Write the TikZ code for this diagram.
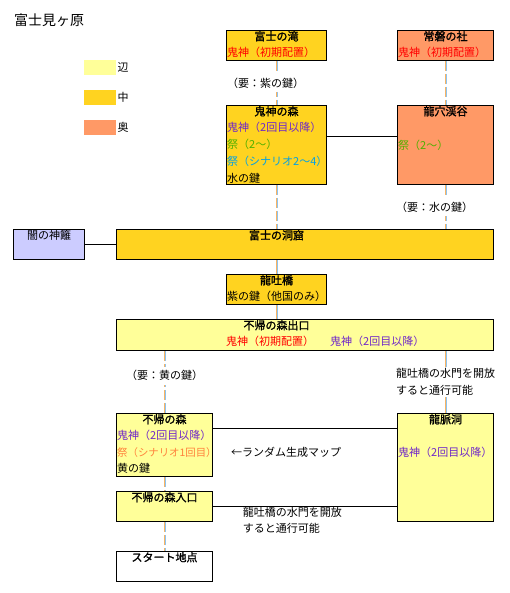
\documentclass[tikz,border=0pt]{standalone}
\usepackage{fontspec}
\setmainfont{Noto Sans CJK JP}
\newfontfamily\boldjp[FakeBold=1.5]{Noto Sans CJK JP}
\usetikzlibrary{positioning}

\definecolor{hen}{RGB}{255,255,153}
\definecolor{chu}{RGB}{255,211,32}
\definecolor{oku}{RGB}{255,153,102}
\definecolor{yamiblue}{RGB}{204,204,255}
\definecolor{oniRed}{RGB}{255,0,0}
\definecolor{oniPurple}{RGB}{112,40,200}
\definecolor{matsuriGreen}{RGB}{80,176,0}
\definecolor{matsuriBlue}{RGB}{0,160,230}
\definecolor{matsuriOrange}{RGB}{255,130,60}
\definecolor{pathOrange}{RGB}{248,180,100}
\definecolor{pathBlue}{RGB}{140,195,240}

\tikzset{
  area/.style={draw, line width=1pt, anchor=north west, inner sep=0pt},
  swatch/.style={anchor=north west, inner sep=0pt, minimum width=32pt, minimum height=15pt},
  head/.style={anchor=north, inner sep=0pt, yshift=-1pt, font=\boldjp\fontsize{11}{13}\selectfont},
  body/.style={anchor=north west, inner sep=0pt, xshift=1pt, yshift=-17pt, align=left},
  open/.style={line width=1pt},
  keyed/.style={line width=1pt, dash pattern=on 10pt off 3pt},
  link/.style={draw, line width=1pt},
  keylabel/.style={fill=white, inner xsep=1pt, inner ysep=4pt},
  gatelabel/.style={fill=white, inner sep=1pt, align=left, font=\fontsize{11}{17}\selectfont}
}

% two-tone route: orange on the left, blue on the right
\newcommand{\routepair}[3][open]{%
  \draw[#1, pathOrange, transform canvas={xshift=-0.5pt}] #2 -- #3;
  \draw[#1, pathBlue, transform canvas={xshift=0.5pt}] #2 -- #3;}

\begin{document}
\begin{tikzpicture}[x=1pt, y=-1pt, font=\fontsize{11}{17}\selectfont]
  \useasboundingbox (0,0) rectangle (510,593);

  % Title and legend
  \node[anchor=west, inner sep=0pt, font=\fontsize{14}{16}\selectfont] (title) at (14,20) {富士見ヶ原};
  \foreach \y/\col/\name [count=\i] in {60/hen/辺, 90/chu/中, 120/oku/奥} {
      \node[swatch, fill=\col] (sw\i) at (84,\y) {};
      \node[right=1pt of sw\i, inner sep=0pt] (lg\i) {\name};
  }

  % Top row
  \node[area, fill=chu, minimum width=100pt, minimum height=30pt] (taki) at (226,30) {};
  \node[head] (takiT) at (taki.north) {富士の滝};
  \node[body] (takiB) at (taki.north west) {\textcolor{oniRed}{鬼神（初期配置）}};

  \node[area, fill=oku, minimum width=96pt, minimum height=30pt] (tokiwa) at (397,30) {};
  \node[head] (tokiwaT) at (tokiwa.north) {常磐の社};
  \node[body] (tokiwaB) at (tokiwa.north west) {\textcolor{oniRed}{鬼神（初期配置）}};

  % Second row
  \node[area, fill=chu, minimum width=100pt, minimum height=79pt] (kishin) at (226,105) {};
  \node[head] (kishinT) at (kishin.north) {鬼神の森};
  \node[body] (kishinB) at (kishin.north west) {\textcolor{oniPurple}{鬼神（2回目以降）}\\
    \textcolor{matsuriGreen}{祭（2〜）}\\
    \textcolor{matsuriBlue}{祭（シナリオ2〜4）}\\
    水の鍵};

  \node[area, fill=oku, minimum width=96pt, minimum height=79pt] (ryuketsu) at (397,105) {};
  \node[head] (ryuketsuT) at (ryuketsu.north) {龍穴渓谷};
  \node[anchor=west, inner sep=0pt] (ryuketsuB) at ([xshift=1pt, yshift=-40pt]ryuketsu.north west)
    {\textcolor{matsuriGreen}{祭（2〜）}};

  % Cave row
  \node[area, fill=yamiblue, minimum width=71pt, minimum height=30pt] (yami) at (13,229) {};
  \node[head, font=\fontsize{11}{13}\selectfont] (yamiT) at (yami.north) {闇の神籬};

  \node[area, fill=chu, minimum width=377pt, minimum height=30pt] (doukutsu) at (116,229) {};

  \node[area, fill=chu, minimum width=100pt, minimum height=30pt] (ryuto) at (226,274) {};
  \node[head] (ryutoT) at (ryuto.north) {龍吐橋};
  \node[body] (ryutoB) at (ryuto.north west) {紫の鍵（他国のみ）};

  \node[head] (doukutsuT) at (doukutsu.north -| ryuto.north) {富士の洞窟};

  % Forest exit
  \node[area, fill=hen, minimum width=377pt, minimum height=31pt] (deguchi) at (116,319) {};
  \node[head] (deguchiT) at (deguchi.north -| ryuto.north) {不帰の森出口};
  \node[body] (deguchiB) at ([xshift=109pt]deguchi.north west)
    {\textcolor{oniRed}{鬼神（初期配置）}\hspace{16pt}\textcolor{oniPurple}{鬼神（2回目以降）}};

  % Lower rows
  \node[area, fill=hen, minimum width=96pt, minimum height=63pt] (fuki) at (116,413) {};
  \node[head] (fukiT) at (fuki.north) {不帰の森};
  \node[body, font=\fontsize{11}{16.5}\selectfont] (fukiB) at (fuki.north west)
    {\textcolor{oniPurple}{鬼神（2回目以降）}\\
    \textcolor{matsuriOrange}{\fontsize{10.4}{16.5}\selectfont 祭（シナリオ1回目）}\\
    黄の鍵};

  \node[area, fill=hen, minimum width=96pt, minimum height=108pt] (ryumyaku) at (397,413) {};
  \node[head] (ryumyakuT) at (ryumyaku.north) {龍脈洞};
  \node[anchor=west, inner sep=0pt] (ryumyakuB) at ([xshift=1pt, yshift=-39pt]ryumyaku.north west)
    {\textcolor{oniPurple}{鬼神（2回目以降）}};

  \node[area, fill=hen, minimum width=96pt, minimum height=30pt] (iriguchi) at (116,491) {};
  \node[head] (iriguchiT) at (iriguchi.north) {不帰の森入口};

  \node[area, fill=white, minimum width=96pt, minimum height=30pt] (start) at (116,551) {};
  \node[head] (startT) at (start.north) {スタート地点};

  \node[anchor=west, inner sep=0pt] (randomNote) at (231,452) {←ランダム生成マップ};

  % Routes needing keys (dashed)
  \routepair[keyed]{(taki)}{(kishin)}
  \routepair[keyed]{(tokiwa)}{(ryuketsu)}
  \routepair[keyed]{(kishin.south)}{(kishin.south |- doukutsu.north)}
  \routepair[keyed]{(ryuketsu.south)}{(ryuketsu.south |- doukutsu.north)}
  \routepair[keyed]{(fuki.north |- deguchi.south)}{(fuki.north)}
  \routepair[keyed]{(fuki)}{(iriguchi)}
  \routepair[keyed]{(iriguchi)}{(start)}

  % Open routes
  \routepair{(ryuto.north |- doukutsu.south)}{(ryuto.north)}
  \routepair{(ryuto.south)}{(ryuto.south |- deguchi.north)}
  \routepair{(ryumyaku.north |- deguchi.south)}{(ryumyaku.north)}

  % Labels on the routes
  \path (taki) -- node[keylabel, xshift=-11pt] (murasaki) {（要：紫の鍵）} (kishin);
  \path (ryuketsu.south) -- node[keylabel, xshift=-11pt] (mizu) {（要：水の鍵）} (ryuketsu.south |- doukutsu.north);
  \path (fuki.north |- deguchi.south) -- node[keylabel, pos=0.4] (ki) {（要：黄の鍵）} (fuki.north);
  \path (ryumyaku.north |- deguchi.south) -- node[gatelabel] (suimon) {龍吐橋の水門を開放\\すると通行可能} (ryumyaku.north);

  % Side links
  \draw[link] ([yshift=8.5pt]kishin.east) -- ([yshift=8.5pt]ryuketsu.west);
  \draw[link] (yami) -- (doukutsu);
  \draw[link] ([yshift=-15pt]fuki.north east) -- ([yshift=-15pt]ryumyaku.north west);
  \draw[link] (iriguchi.east) -- node[pos=0.16, anchor=north west, inner sep=0pt, align=left, font=\fontsize{11}{16}\selectfont] (suimon2)
    {龍吐橋の水門を開放\\すると通行可能} (iriguchi.east -| ryumyaku.west);
\end{tikzpicture}
\end{document}
